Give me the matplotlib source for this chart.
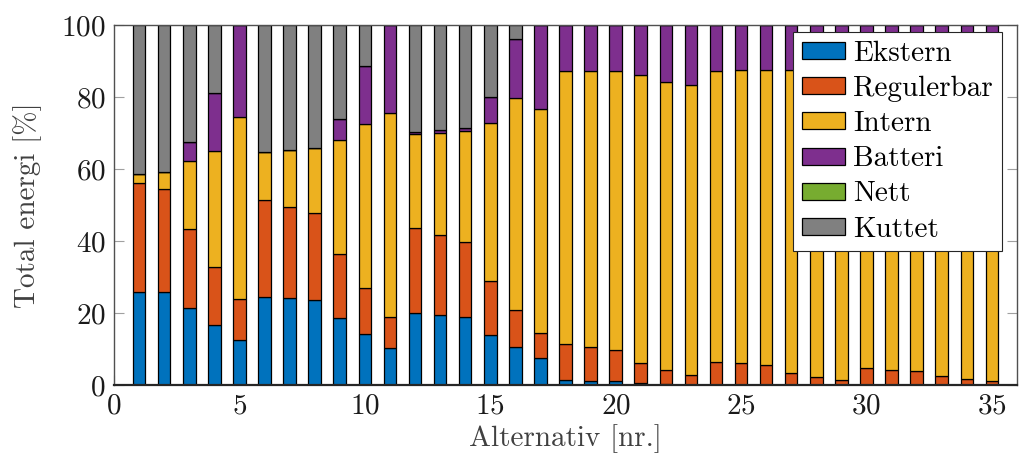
import numpy as np
import matplotlib
matplotlib.use("Agg")
import matplotlib.pyplot as plt

alternativ = list(range(1, 36))
ekstern = [25.9, 25.7, 21.3, 16.7, 12.5, 24.4, 24.1, 23.6, 18.5, 14.1,
           10.4, 19.9, 19.4, 18.8, 13.9, 10.5, 7.5, 1.3, 1.2, 1.0,
           0.6, 0.2, 0.1, 0.1, 0.1, 0.1, 0.1, 0.1, 0.1, 0.1,
           0.1, 0.1, 0.1, 0.1, 0.1]
regulerbar_top = [56.2, 54.5, 43.2, 32.7, 23.8, 51.3, 49.4, 47.7, 36.4, 26.9,
                  19.0, 43.5, 41.6, 39.6, 29.0, 20.8, 14.4, 11.5, 10.6, 9.8,
                  6.1, 4.1, 2.7, 6.5, 6.0, 5.6, 3.3, 2.1, 1.5, 4.8,
                  4.3, 4.0, 2.5, 1.7, 1.1]
intern_top = [58.6, 59.3, 62.1, 65.0, 74.4, 64.8, 65.3, 65.8, 68.0, 72.4,
              75.5, 69.7, 70.1, 70.6, 72.7, 79.6, 76.8, 87.2, 87.2, 87.3,
              86.0, 84.3, 83.4, 87.1, 87.4, 87.6, 87.5, 87.4, 87.4, 87.4,
              87.4, 87.4, 87.4, 87.4, 87.4]
batteri_top = [58.6, 59.3, 67.4, 81.2, 100.0, 64.8, 65.3, 65.8, 74.0, 88.6,
               100.0, 70.2, 70.7, 71.3, 80.0, 96.0, 100.0, 100.0, 100.0, 100.0,
               100.0, 100.0, 100.0, 100.0, 100.0, 100.0, 100.0, 100.0, 100.0, 100.0,
               100.0, 100.0, 100.0, 100.0, 100.0]

ekstern = np.array(ekstern)
regulerbar = np.array(regulerbar_top) - ekstern
intern = np.array(intern_top) - np.array(regulerbar_top)
batteri = np.array(batteri_top) - np.array(intern_top)
nett = np.zeros(len(alternativ))
kuttet = 100.0 - np.array(batteri_top)

labels = ["Ekstern", "Regulerbar", "Intern", "Batteri", "Nett", "Kuttet"]
colors = ["#0072BD", "#D95319", "#EDB120", "#7E2F8E", "#77AC30", "#808080"]
series = [ekstern, regulerbar, intern, batteri, nett, kuttet]

plt.rcParams["font.family"] = "serif"
plt.rcParams["font.serif"] = ["cmr10", "DejaVu Serif"]
plt.rcParams["mathtext.fontset"] = "cm"
plt.rcParams["axes.formatter.use_mathtext"] = True

fig = plt.figure(figsize=(10.19, 4.62), dpi=100)
ax = fig.add_axes([0.1119, 0.1667, 0.998 - 0.1119, 0.9459 - 0.1667])

bottom = np.zeros(len(alternativ))
for vals, lab, col in zip(series, labels, colors):
    ax.bar(alternativ, vals, width=0.5, bottom=bottom, color=col,
           edgecolor="black", linewidth=0.9, label=lab, zorder=2)
    bottom = bottom + vals

ax.set_xlim(0, 36)
ax.set_ylim(0, 100)
ax.set_xticks([0, 5, 10, 15, 20, 25, 30, 35])
ax.set_yticks([0, 20, 40, 60, 80, 100])
ax.tick_params(axis="both", direction="in", length=7, width=0.8,
               color="#a0a0a0", labelsize=21, pad=6, labelcolor="#1a1a1a")
ax.tick_params(axis="y", right=True)
for s in ax.spines.values():
    s.set_color("#505050")
    s.set_linewidth(1.0)
    s.set_zorder(3)
ax.spines["bottom"].set_color("#262626")
ax.spines["bottom"].set_linewidth(1.6)

ax.set_xlabel("Alternativ [nr.]", fontsize=21, color="#404040", labelpad=3)
ax.set_ylabel("Total energi [%]", fontsize=21, color="#404040", labelpad=14)

leg = ax.legend(loc="upper right", bbox_to_anchor=(0.9834, 0.9806),
                fontsize=21, frameon=True, fancybox=False,
                edgecolor="#262626", framealpha=1.0, borderaxespad=0.0,
                handlelength=1.47, handleheight=0.52, handletextpad=0.3,
                labelspacing=0.3, borderpad=0.3)
leg.get_frame().set_linewidth(0.8)
leg.set_zorder(5)

fig.savefig("out.png", dpi=100)
